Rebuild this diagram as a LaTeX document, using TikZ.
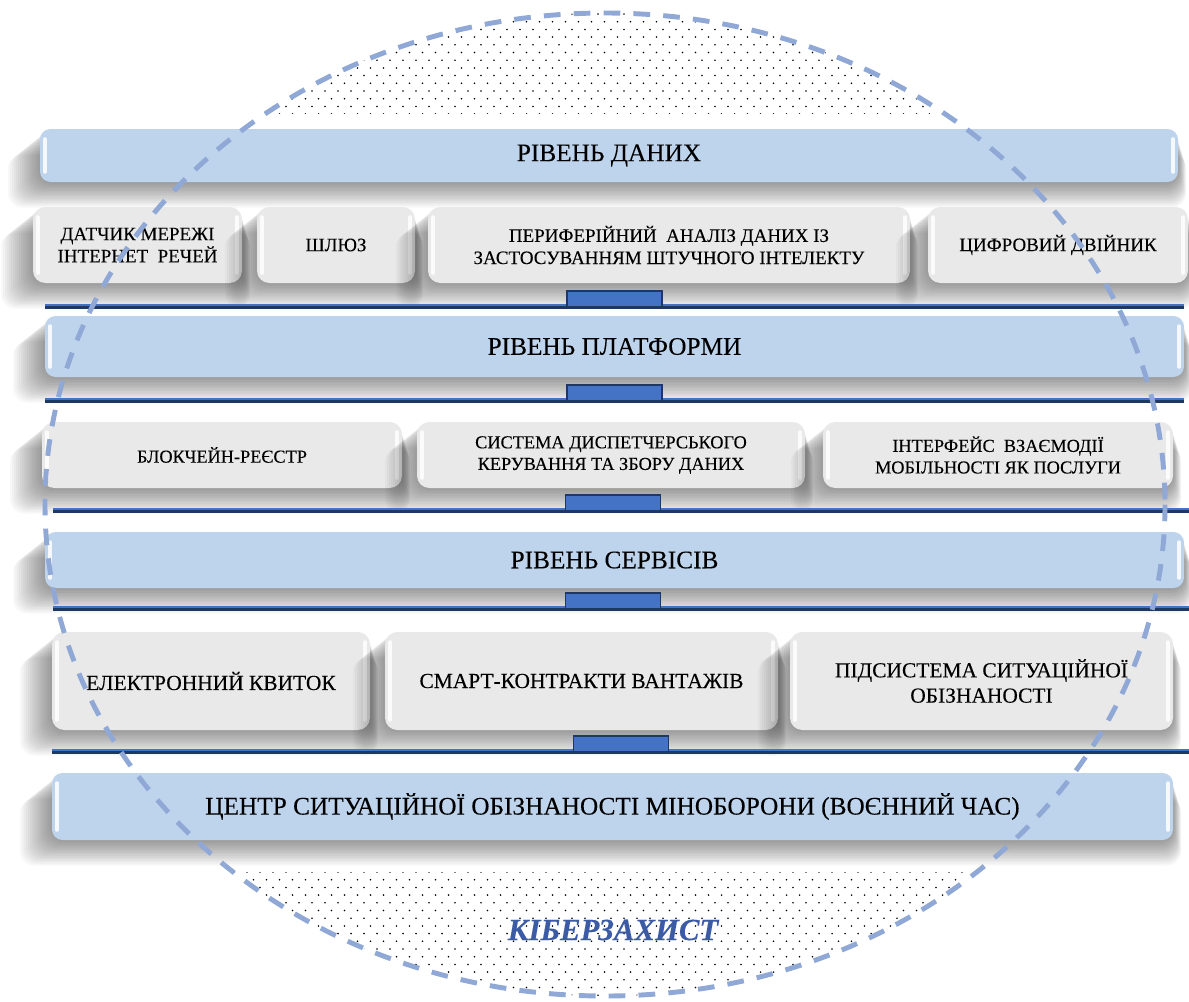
\documentclass[tikz,border=0pt]{standalone}
\usepackage{fontspec}
\setmainfont{Liberation Serif}[FakeBold=0.15]
\begin{document}
\definecolor{bandfill}{RGB}{190,212,236}
\definecolor{boxfill}{RGB}{233,233,233}
\definecolor{navy}{RGB}{30,56,100}
\definecolor{notchblue}{RGB}{68,114,196}
\definecolor{dashcol}{RGB}{143,168,214}
\definecolor{cybertext}{RGB}{59,91,165}
\begin{tikzpicture}[x=0.02cm,y=-0.02cm,
  band/.style={fill=bandfill, rounded corners=6pt, inner sep=0pt, outer sep=0pt, align=center, text=black, font=\fontsize{14.4}{17}\selectfont},
  boxa/.style={fill=boxfill, rounded corners=7pt, inner sep=0pt, outer sep=0pt, align=center, text=black, font=\fontsize{10.8}{12.6}\selectfont},
  boxb/.style={boxa, font=\fontsize{10.4}{12.3}\selectfont},
  boxc/.style={boxa, font=\fontsize{12.2}{14.4}\selectfont},
  notchbox/.style={fill=notchblue, draw=navy, line width=0.8pt, inner sep=0pt, minimum width=95*0.02cm, minimum height=16*0.02cm},
  sepline/.style={draw=navy, line width=2.2pt},
  sephi/.style={draw=notchblue, line width=0.9pt},
  gloss/.style={draw=white, line width=2pt, line cap=round, opacity=0.85},
  zone/.style={draw=dashcol, line width=2.8pt, dash pattern=on 9.5pt off 7.5pt}
]
\useasboundingbox (0,0) rectangle (1189,1001);
\fill[white] (0,0) rectangle (1189,1001);
% dotted area inside the ellipse
\begin{scope}
\clip (605,504.5) ellipse [x radius=560, y radius=491.5];
\foreach \r in {0,...,13}{
  \pgfmathsetmacro\yy{14+7.7*\r}
  \pgfmathsetmacro\xo{mod(\r,2)*6.5}
  \foreach \c in {0,...,92}{\fill[black] (\xo+13*\c,\yy) circle[radius=0.5pt];}
}
\foreach \r in {0,...,17}{
  \pgfmathsetmacro\yy{872+7.7*\r}
  \pgfmathsetmacro\xo{mod(\r,2)*6.5}
  \foreach \c in {0,...,92}{\fill[black] (\xo+13*\c,\yy) circle[radius=0.5pt];}
}
\end{scope}
\fill[white] (0,114) rectangle (1189,872);

\newcommand\Elem[7]{%
  \foreach \i in {1,...,16}{\fill[black,opacity=0.027,rounded corners=8pt] (#3-2*\i,#4+1.6*\i) rectangle (#5+0.5*\i,#6+1.6*\i);}
  \node[#2, minimum width={(#5-#3)*0.02cm}, minimum height={(#6-#4)*0.02cm}] (#1) at ({(#3+#5)/2},{(#4+#6)/2}) {#7};
  \draw[gloss] (#3+5,#4+10) -- (#3+5,#6-10);
  \draw[gloss] (#5-5,#4+10) -- (#5-5,#6-10);
}
\newcommand\Sep[5]{%
  \coordinate (#1l) at (#3,#2);
  \coordinate (#1r) at (#4,#2);
  \draw[sepline] (#1l) -- (#1r);
  \draw[sephi] ([yshift=1.2pt]#1l) -- ([yshift=1.2pt]#1r);
  \node[notchbox] (#1n) at (#5,#2-8) {};
}

% level 1
\Elem{b1}{band}{40}{129}{1178}{182}{РІВЕНЬ ДАНИХ}
\Elem{a1}{boxa}{33}{207}{242}{283}{ДАТЧИК МЕРЕЖІ\\ІНТЕРНЕТ\enspace РЕЧЕЙ}
\Elem{a2}{boxa}{257}{207}{415}{283}{ШЛЮЗ}
\Elem{a3}{boxa}{428}{207}{910}{283}{ПЕРИФЕРІЙНИЙ\enspace АНАЛІЗ ДАНИХ ІЗ\\ЗАСТОСУВАННЯМ ШТУЧНОГО ІНТЕЛЕКТУ}
\Elem{a4}{boxa}{928}{207}{1188}{283}{ЦИФРОВИЙ ДВІЙНИК}
\Sep{s1}{307}{45}{1184}{614.5}
% level 2
\Elem{b2}{band}{45}{316}{1184}{377}{РІВЕНЬ ПЛАТФОРМИ}
\Sep{s2}{401}{45}{1184}{614.5}
\Elem{c1}{boxb}{42}{422}{402}{488}{БЛОКЧЕЙН-РЕЄСТР}
\Elem{c2}{boxb}{417}{422}{805}{488}{СИСТЕМА ДИСПЕТЧЕРСЬКОГО\\КЕРУВАННЯ ТА ЗБОРУ ДАНИХ}
\Elem{c3}{boxb}{823}{422}{1173}{488}{ІНТЕРФЕЙС\enspace ВЗАЄМОДІЇ\\МОБІЛЬНОСТІ ЯК ПОСЛУГИ}
\Sep{s3}{511}{53}{1189}{613}
% level 3
\Elem{b3}{band}{45}{532}{1184}{588}{РІВЕНЬ СЕРВІСІВ}
\Sep{s4}{609}{53}{1189}{613}
\Elem{d1}{boxc}{52}{632}{370}{730}{ЕЛЕКТРОННИЙ КВИТОК}
\Elem{d2}{boxc}{385}{632}{778}{730}{СМАРТ-КОНТРАКТИ ВАНТАЖІВ}
\Elem{d3}{boxc}{790}{632}{1173}{730}{ПІДСИСТЕМА СИТУАЦІЙНОЇ\\ОБІЗНАНОСТІ}
\Sep{s5}{752}{52}{1189}{621}
% level 4
\Elem{b4}{band}{52}{773}{1173}{840}{ЦЕНТР СИТУАЦІЙНОЇ ОБІЗНАНОСТІ МІНОБОРОНИ (ВОЄННИЙ ЧАС)}

% cyber-defence zone
\draw[zone] (605,504.5) ellipse [x radius=560, y radius=491.5];
\node[text=cybertext, font=\fontsize{17.5}{20}\selectfont\bfseries\itshape] (cyber) at (613,930) {КІБЕРЗАХИСТ};
\end{tikzpicture}
\end{document}
